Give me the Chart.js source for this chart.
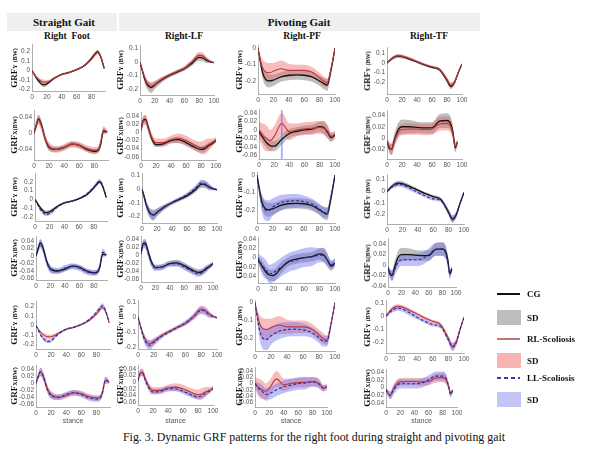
<!DOCTYPE html>
<html><head><meta charset="utf-8">
<script src="https://cdn.jsdelivr.net/npm/chart.js@4.4.1/dist/chart.umd.min.js"></script>
<style>
html,body{margin:0;padding:0;background:#fff;}
#fig{position:relative;width:592px;height:470px;overflow:hidden;background:#fff;}
.abs{position:absolute;white-space:nowrap;}
.ser{font-family:"Liberation Serif","Times New Roman",serif;color:#111;}
.hdr{font-weight:bold;font-size:11px;transform:translate(-50%,-50%);}
.sub{font-weight:bold;font-size:9.5px;transform:translate(-50%,-50%);}
.ylab{font-weight:bold;font-size:9px;transform:translate(-50%,-50%) rotate(-90deg);}
.ylab small{font-size:6px;}
.leg{font-weight:bold;font-size:9px;transform:translateY(-50%);}
.stance{font-family:"Liberation Sans",Arial,sans-serif;font-size:7px;color:#555;transform:translate(-50%,-50%);}
canvas{position:absolute;}
</style></head>
<body><div id="fig"></div>
<script>
// ---------------- data ----------------
const stanceSF  = [0,3,6,10,15,20,30,40,50,60,70,80,85,88,92,97];
const stanceStd = [0,3,6,10,15,20,30,40,50,60,70,80,85,90,95,100];
const stanceTFx = [0,3,6,10,15,20,30,40,50,60,70,80,85,88,91,94];
const xTicksSF  = [0,20,40,60,80];
const xTicksStd = [0,20,40,60,80,100];
const gaitTitles = ['Straight Gait','Pivoting Gait'];
const columnTitles = ['Right  Foot','Right-LF','Right-PF','Right-TF'];
const legendLabels = ['CG','SD','RL-Scoliosis','SD','LL-Scoliosis','SD'];
const captionText = 'Fig. 3. Dynamic GRF patterns for the right foot during straight and pivoting gait';
const xAxisLabel = 'stance';

// Straight gait, right foot
const sfY_CG    = [0,-0.04,-0.08,-0.12,-0.15,-0.14,-0.08,-0.04,-0.02,0.01,0.05,0.13,0.18,0.2,0.15,0.02];
const sfY_CG_sd = [0.005,0.01,0.015,0.02,0.025,0.022,0.01,0.01,0.01,0.01,0.01,0.015,0.02,0.02,0.02,0.01];
const sfY_RL    = [0,-0.04,-0.07,-0.1,-0.12,-0.12,-0.08,-0.04,-0.02,0.01,0.05,0.12,0.17,0.19,0.15,0.03];
const sfY_RL_sd = [0.005,0.01,0.015,0.02,0.025,0.02,0.012,0.01,0.01,0.01,0.012,0.015,0.02,0.02,0.02,0.01];
const sfY_LL    = [0,-0.05,-0.1,-0.14,-0.17,-0.16,-0.09,-0.04,-0.02,0.01,0.06,0.14,0.19,0.21,0.16,0.03];
const sfY_LL_sd = [0.005,0.01,0.015,0.02,0.02,0.02,0.012,0.01,0.01,0.01,0.012,0.02,0.025,0.025,0.02,0.01];
const sfX_CG    = [0,0.02,0.035,0.02,-0.015,-0.035,-0.04,-0.035,-0.027,-0.03,-0.04,-0.045,-0.042,-0.03,0.005,0.003];
const sfX_CG_sd = [0.004,0.01,0.01,0.01,0.008,0.008,0.006,0.006,0.006,0.006,0.006,0.006,0.006,0.008,0.008,0.004];
const sfX_RL    = [0,0.02,0.033,0.018,-0.015,-0.033,-0.04,-0.035,-0.027,-0.03,-0.038,-0.042,-0.04,-0.025,0.008,0.003];
const sfX_RL_sd = [0.004,0.01,0.012,0.012,0.01,0.01,0.008,0.008,0.008,0.008,0.008,0.008,0.008,0.01,0.01,0.004];
const sfX_LL    = [0,0.02,0.033,0.018,-0.018,-0.035,-0.04,-0.032,-0.027,-0.032,-0.042,-0.045,-0.042,-0.028,0.01,0.004];
const sfX_LL_sd = [0.004,0.01,0.012,0.012,0.01,0.01,0.008,0.008,0.008,0.008,0.008,0.008,0.008,0.01,0.01,0.004];

// Pivoting gait, Right-LF
const lfY_CG    = [0,-0.06,-0.12,-0.17,-0.19,-0.17,-0.13,-0.1,-0.075,-0.05,-0.01,0.035,0.03,0.012,0.002,-0.005];
const lfY_CG_sd = [0.005,0.02,0.03,0.035,0.04,0.03,0.02,0.015,0.015,0.015,0.02,0.025,0.025,0.02,0.01,0.005];
const lfY_RL    = [0,-0.06,-0.11,-0.16,-0.18,-0.165,-0.125,-0.095,-0.07,-0.045,0,0.05,0.045,0.02,0.005,-0.005];
const lfY_RL_sd = [0.005,0.015,0.02,0.025,0.025,0.02,0.015,0.012,0.012,0.015,0.02,0.025,0.025,0.02,0.01,0.005];
const lfY_LL    = [0,-0.06,-0.12,-0.17,-0.19,-0.17,-0.13,-0.1,-0.07,-0.04,0,0.045,0.035,0.015,0.003,-0.005];
const lfY_LL_sd = [0.005,0.02,0.025,0.03,0.03,0.025,0.015,0.012,0.012,0.015,0.02,0.025,0.025,0.02,0.01,0.005];
const lfX_CG    = [0.005,0.03,0.032,0.01,-0.018,-0.03,-0.028,-0.02,-0.018,-0.025,-0.035,-0.042,-0.04,-0.033,-0.027,-0.02];
const lfX_CG_sd = [0.005,0.01,0.01,0.01,0.008,0.006,0.006,0.006,0.008,0.008,0.008,0.008,0.008,0.008,0.006,0.005];
const lfX_RL    = [0.005,0.028,0.03,0.008,-0.015,-0.025,-0.025,-0.018,-0.015,-0.02,-0.03,-0.038,-0.036,-0.03,-0.025,-0.018];
const lfX_RL_sd = [0.006,0.012,0.012,0.012,0.01,0.01,0.01,0.01,0.012,0.012,0.012,0.015,0.018,0.015,0.01,0.006];
const lfX_LL    = [0.005,0.028,0.028,0.005,-0.02,-0.03,-0.028,-0.02,-0.02,-0.028,-0.038,-0.045,-0.042,-0.035,-0.028,-0.02];
const lfX_LL_sd = [0.006,0.01,0.01,0.01,0.01,0.008,0.008,0.008,0.008,0.008,0.008,0.008,0.008,0.008,0.006,0.005];

// Pivoting gait, Right-PF
const pfY_CG    = [0,-0.08,-0.15,-0.19,-0.2,-0.195,-0.175,-0.165,-0.163,-0.165,-0.175,-0.2,-0.215,-0.225,-0.13,0];
const pfY_CG_sd = [0.005,0.02,0.035,0.04,0.04,0.035,0.03,0.03,0.03,0.03,0.03,0.03,0.035,0.035,0.02,0.005];
const pfY_RL    = [0,-0.07,-0.12,-0.145,-0.15,-0.14,-0.125,-0.135,-0.135,-0.135,-0.145,-0.18,-0.2,-0.21,-0.12,0];
const pfY_RL_sd = [0.005,0.03,0.05,0.06,0.06,0.05,0.05,0.04,0.035,0.035,0.03,0.03,0.03,0.025,0.02,0.005];
const pfY_LL    = [0,-0.09,-0.16,-0.2,-0.205,-0.185,-0.16,-0.15,-0.148,-0.152,-0.165,-0.195,-0.215,-0.215,-0.12,0];
const pfY_LL_sd = [0.005,0.03,0.05,0.06,0.06,0.05,0.045,0.04,0.04,0.035,0.03,0.03,0.03,0.03,0.02,0.005];
const pfX_CG    = [-0.005,-0.012,-0.02,-0.03,-0.037,-0.038,-0.022,-0.008,-0.003,0,0.002,0.008,0.006,-0.005,-0.018,-0.012];
const pfX_CG_sd = [0.008,0.01,0.012,0.012,0.012,0.012,0.012,0.01,0.01,0.01,0.01,0.012,0.015,0.015,0.01,0.008];
const pfX_RL    = [0,-0.008,-0.015,-0.02,-0.025,-0.015,0.015,-0.004,0,0.003,0.004,0.006,0.004,-0.002,-0.015,-0.01];
const pfX_RL_sd = [0.02,0.025,0.03,0.03,0.025,0.025,0.025,0.02,0.015,0.015,0.015,0.015,0.015,0.015,0.01,0.008];
const pfX_LL    = [0,-0.01,-0.018,-0.025,-0.035,-0.032,-0.02,-0.01,-0.005,0,0.002,0.005,0.005,-0.005,-0.015,-0.01];
const pfX_LL_sd = [0.01,0.015,0.02,0.02,0.02,0.02,0.02,0.02,0.02,0.02,0.02,0.015,0.015,0.012,0.01,0.008];
const pfMarkerStance = [30];

// Pivoting gait, Right-TF
const tfY_CG    = [0,0.02,0.04,0.06,0.07,0.065,0.04,0.01,-0.02,-0.045,-0.07,-0.18,-0.24,-0.2,-0.1,-0.01];
const tfY_CG_sd = [0.008,0.012,0.015,0.02,0.02,0.02,0.015,0.012,0.012,0.012,0.015,0.025,0.03,0.025,0.015,0.008];
const tfY_RL    = [0,0.025,0.045,0.065,0.075,0.07,0.045,0.015,-0.015,-0.04,-0.065,-0.17,-0.23,-0.2,-0.1,-0.01];
const tfY_RL_sd = [0.008,0.01,0.015,0.015,0.015,0.015,0.015,0.012,0.012,0.012,0.015,0.025,0.03,0.025,0.015,0.008];
const tfY_LL    = [0,0.015,0.035,0.05,0.06,0.055,0.025,-0.01,-0.04,-0.065,-0.08,-0.18,-0.235,-0.2,-0.1,-0.01];
const tfY_LL_sd = [0.008,0.012,0.015,0.02,0.02,0.02,0.02,0.015,0.015,0.015,0.015,0.025,0.03,0.025,0.015,0.008];
const tfX_CG    = [-0.005,-0.018,-0.02,-0.003,0.015,0.02,0.02,0.019,0.018,0.018,0.03,0.031,0.025,0.01,-0.017,-0.007];
const tfX_CG_sd = [0.005,0.008,0.01,0.012,0.012,0.013,0.012,0.01,0.01,0.01,0.012,0.013,0.012,0.01,0.008,0.005];
const tfX_RL    = [-0.005,-0.015,-0.02,-0.005,0.01,0.015,0.016,0.016,0.015,0.016,0.025,0.026,0.02,0.005,-0.015,-0.007];
const tfX_RL_sd = [0.005,0.008,0.01,0.01,0.01,0.01,0.01,0.01,0.01,0.01,0.012,0.012,0.012,0.01,0.008,0.005];
const tfX_LL    = [-0.005,-0.015,-0.02,-0.008,0.005,0.01,0.01,0.01,0.012,0.02,0.03,0.03,0.022,0.005,-0.018,-0.007];
const tfX_LL_sd = [0.005,0.008,0.01,0.012,0.012,0.012,0.012,0.012,0.012,0.012,0.012,0.012,0.012,0.01,0.008,0.005];

// tick labels
const yTicksVert = [[-0.2,-0.1,0,0.1,0.2],[-0.2,-0.1,0,0.1],[-0.2,-0.1,0],[-0.2,-0.1,0,0.1]];
const yTicksAP_row2 = [[-0.04,0,0.04],[-0.06,-0.04,-0.02,0,0.02,0.04],[-0.06,-0.04,-0.02,0,0.02,0.04],[-0.02,0,0.02,0.04]];
const yTicksAP_row4 = [[-0.06,-0.04,-0.02,0,0.02,0.04],[-0.06,-0.04,-0.02,0,0.02,0.04],[-0.04,-0.02,0,0.02,0.04],[-0.04,-0.02,0,0.02,0.04]];
const yTicksAP_row6 = [[-0.06,-0.04,-0.02,0,0.02,0.04],[-0.06,-0.04,-0.02,0,0.02,0.04],[-0.06,-0.04,-0.02,0,0.02,0.04],[-0.04,-0.02,0,0.02,0.04]];

// ---------------- assembly ----------------
const SERIES = {
  SF:{Y:{CG:[sfY_CG,sfY_CG_sd],RL:[sfY_RL,sfY_RL_sd],LL:[sfY_LL,sfY_LL_sd]},
      X:{CG:[sfX_CG,sfX_CG_sd],RL:[sfX_RL,sfX_RL_sd],LL:[sfX_LL,sfX_LL_sd]}},
  LF:{Y:{CG:[lfY_CG,lfY_CG_sd],RL:[lfY_RL,lfY_RL_sd],LL:[lfY_LL,lfY_LL_sd]},
      X:{CG:[lfX_CG,lfX_CG_sd],RL:[lfX_RL,lfX_RL_sd],LL:[lfX_LL,lfX_LL_sd]}},
  PF:{Y:{CG:[pfY_CG,pfY_CG_sd],RL:[pfY_RL,pfY_RL_sd],LL:[pfY_LL,pfY_LL_sd]},
      X:{CG:[pfX_CG,pfX_CG_sd],RL:[pfX_RL,pfX_RL_sd],LL:[pfX_LL,pfX_LL_sd]}},
  TF:{Y:{CG:[tfY_CG,tfY_CG_sd],RL:[tfY_RL,tfY_RL_sd],LL:[tfY_LL,tfY_LL_sd]},
      X:{CG:[tfX_CG,tfX_CG_sd],RL:[tfX_RL,tfX_RL_sd],LL:[tfX_LL,tfX_LL_sd]}}
};
const COLS = ['SF','LF','PF','TF'];
const STANCE = {SF:{Y:stanceSF,X:stanceSF},LF:{Y:stanceStd,X:stanceStd},PF:{Y:stanceStd,X:stanceStd},TF:{Y:stanceStd,X:stanceTFx}};
const ROWS = [
  {comp:'Y',groups:['CG','RL'],yt:yTicksVert},
  {comp:'X',groups:['CG','RL'],yt:yTicksAP_row2},
  {comp:'Y',groups:['CG','LL'],yt:yTicksVert},
  {comp:'X',groups:['CG','LL'],yt:yTicksAP_row4},
  {comp:'Y',groups:['RL','LL'],yt:yTicksVert},
  {comp:'X',groups:['RL','LL'],yt:yTicksAP_row6}
];
// layout: plot box [left, top, right, bottom] in page pixels, and y ranges
const BOX = [
  [[32,44,105,91],[140,45,214,95],[258,45,335,94],[387,47,462,94]],
  [[34,110,108,160],[141,112,216,160],[259,109,335,159],[387,110,462,159]],
  [[35,173,107,221],[142,173,217,223],[257,172,335,223],[387,174,464,224]],
  [[36,236,107,280],[141,236,213,282],[258,237,335,283],[388,238,456,287]],
  [[36,301,110,349],[138,300,217,349],[255,300,335,351],[386,300,464,353]],
  [[36,365,110,407],[138,365,213,405],[255,367,327,407],[386,369,457,407]]
];
const YR = [
  [[-0.215,0.27],[-0.245,0.12],[-0.28,0.015],[-0.32,0.155]],
  [[-0.066,0.055],[-0.068,0.048],[-0.068,0.047],[-0.037,0.048]],
  [[-0.245,0.29],[-0.247,0.11],[-0.276,0.013],[-0.28,0.14]],
  [[-0.064,0.051],[-0.066,0.047],[-0.054,0.042],[-0.042,0.05]],
  [[-0.25,0.25],[-0.215,0.107],[-0.27,0.01],[-0.28,0.115]],
  [[-0.068,0.05],[-0.07,0.05],[-0.075,0.05],[-0.05,0.046]]
];
const YLAB_X = [14,120,239,367];
const STYLE = {
  CG:{line:'#141414',w:1.3,dash:[],band:'rgba(125,125,125,0.5)'},
  RL:{line:'#b33b3b',w:1.1,dash:[],band:'rgba(240,95,95,0.42)'},
  LL:{line:'#2a2a8c',w:1.1,dash:[3,2],band:'rgba(105,105,240,0.42)'}
};

const fig = document.getElementById('fig');
function addDiv(cls, html, x, y, extra){
  const d = document.createElement('div');
  d.className = 'abs ' + cls; d.innerHTML = html;
  d.style.left = x + 'px'; d.style.top = y + 'px';
  if (extra) Object.assign(d.style, extra);
  fig.appendChild(d); return d;
}
// header
addDiv('', '', 7, 13, {width:'473px',height:'18px',background:'#efefef'});
addDiv('', '', 117, 13, {width:'2px',height:'18px',background:'#fff'});
addDiv('ser hdr', gaitTitles[0], 64, 22);
addDiv('ser hdr', gaitTitles[1], 299, 22);
const subX = [67,184,302,429];
columnTitles.forEach((t,i)=>addDiv('ser sub', t.replace(/ /g,'&nbsp;'), subX[i], 36));

const fmt = v => Math.abs(v) < 1e-9 ? '0' : String(+v.toFixed(2));
const PADL = 28, PADT = 5, PADR = 9, PADB = 14;

ROWS.forEach((row, r) => {
  COLS.forEach((col, c) => {
    const [L,T,R,B] = BOX[r][c];
    const xs = STANCE[col][row.comp];
    const xmax = col === 'SF' ? 98 : 100;
    const xt = col === 'SF' ? xTicksSF : xTicksStd;
    const ds = [];
    row.groups.forEach((g, gi) => {
      const [m, sd] = SERIES[col][row.comp][g];
      const ord = 10 - gi*2;
      ds.push({data: xs.map((x,i)=>({x, y: m[i] + sd[i]})), borderWidth:0, pointRadius:0, fill:false, order:ord, cubicInterpolationMode:'monotone'});
      ds.push({data: xs.map((x,i)=>({x, y: m[i] - sd[i]})), borderWidth:0, pointRadius:0, fill:'-1', backgroundColor:STYLE[g].band, order:ord, cubicInterpolationMode:'monotone'});
    });
    if (col === 'PF' && r === 1) {
      const yr = YR[r][c];
      ds.push({data: [{x:pfMarkerStance[0], y:yr[0]},{x:pfMarkerStance[0], y:yr[1]}], borderColor:'rgba(110,110,250,0.6)', borderWidth:1.8, pointRadius:0, fill:false, order:5});
    }
    row.groups.forEach((g, gi) => {
      const [m] = SERIES[col][row.comp][g];
      ds.push({data: xs.map((x,i)=>({x, y:m[i]})), borderColor:STYLE[g].line, borderWidth:STYLE[g].w, borderDash:STYLE[g].dash, pointRadius:0, fill:false, order:2-gi, cubicInterpolationMode:'monotone'});
    });
    const cv = document.createElement('canvas');
    const W = (R-L) + PADL + PADR, H = (B-T) + PADT + PADB;
    cv.width = W; cv.height = H;
    cv.style.left = (L-PADL) + 'px'; cv.style.top = (T-PADT) + 'px';
    cv.style.width = W + 'px'; cv.style.height = H + 'px';
    fig.appendChild(cv);
    const tickFont = {family:'"Liberation Sans", Arial, sans-serif', size:6.5};
    new Chart(cv, {
      type:'line',
      data:{datasets:ds},
      options:{
        responsive:false, animation:false, events:[],
        layout:{padding:{top:PADT,right:PADR,left:0,bottom:0}},
        plugins:{legend:{display:false},tooltip:{enabled:false},title:{display:false}},
        scales:{
          x:{type:'linear',min:0,max:xmax,
             grid:{display:false,drawTicks:false,tickLength:0},border:{display:true,color:'#9a9a9a',width:0.8},
             afterBuildTicks:s=>{s.ticks = xt.map(v=>({value:v}));},
             afterFit:s=>{s.height = PADB;},
             ticks:{font:tickFont,color:'#555',padding:2,maxRotation:0,autoSkip:false,callback:v=>String(v)}},
          y:{type:'linear',min:YR[r][c][0],max:YR[r][c][1],
             grid:{display:false,drawTicks:false,tickLength:0},border:{display:true,color:'#9a9a9a',width:0.8},
             afterBuildTicks:s=>{s.ticks = row.yt[c].map(v=>({value:v}));},
             afterFit:s=>{s.width = PADL;},
             ticks:{font:tickFont,color:'#555',padding:2,autoSkip:false,callback:v=>fmt(v)}}
        }
      }
    });
    // y label
    const lab = row.comp === 'Y' ? 'GRF<small>Y</small> <small>(BW)</small>' : 'GRF<small>X</small><small>(BW)</small>';
    addDiv('ser ylab', lab, YLAB_X[c], (T+B)/2);
    if (r === 5) addDiv('stance', xAxisLabel, (L+R)/2, 420);
  });
});

// legend
const LX = 497, TX = 527;
addDiv('', '', LX, 293, {width:'23px',height:'2px',background:'#111'});
addDiv('ser leg', legendLabels[0], TX, 294);
addDiv('', '', LX, 310, {width:'24px',height:'15px',background:'#bdbdbd'});
addDiv('ser leg', legendLabels[1], TX, 318);
addDiv('', '', LX, 338, {width:'23px',height:'1.5px',background:'#c87474'});
addDiv('ser leg', legendLabels[2], TX, 339);
addDiv('', '', LX, 353, {width:'24px',height:'15px',background:'#f8b3b3'});
addDiv('ser leg', legendLabels[3], TX, 361);
addDiv('', '', LX, 377, {width:'23px',height:'2px',background:'repeating-linear-gradient(90deg,#3c3ca0 0 4px,transparent 4px 7px)'});
addDiv('ser leg', legendLabels[4], TX, 378);
addDiv('', '', LX, 392, {width:'24px',height:'15px',background:'#c4c4f7'});
addDiv('ser leg', legendLabels[5], TX, 400);

// caption
addDiv('ser', captionText, 123, 429, {fontSize:'11.9px',lineHeight:'16px'});
</script>
</body></html>
